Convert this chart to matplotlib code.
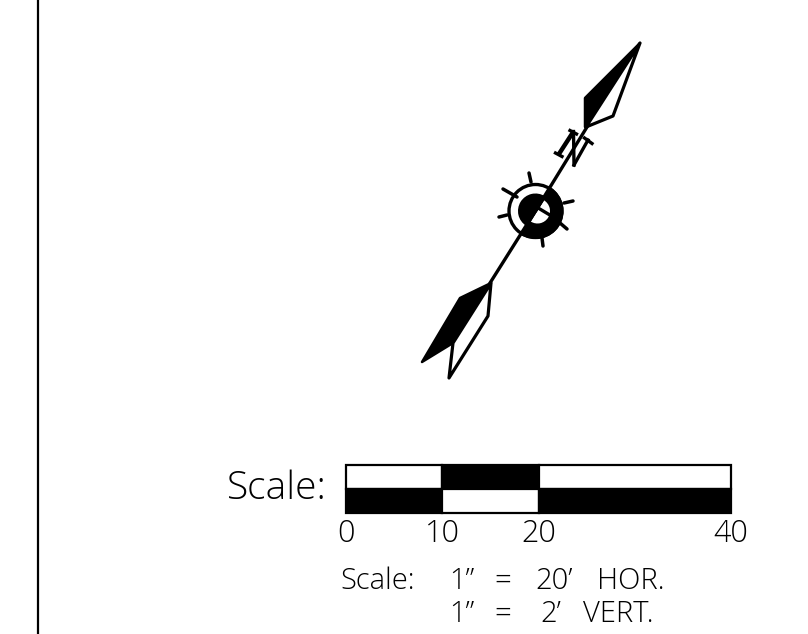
import matplotlib
matplotlib.use("Agg")
import matplotlib.pyplot as plt
from matplotlib.patches import Polygon, Circle, Wedge, Rectangle

FONT = "Open Sans"
scale_edges = [0, 10, 20, 40]
scale_ticks = ["0", "10", "20", "40"]
top_row = ["white", "black", "white"]
bottom_row = ["black", "white", "black"]
scale_title = "Scale:"
line1 = [("Scale:", 340), ("1”", 449), ("=", 494), ("20’", 535), ("HOR.", 597)]
line2 = [("1”", 449), ("=", 494), ("2’", 540), ("VERT.", 583)]

fig = plt.figure(figsize=(8.08, 6.34), dpi=100)
ax = fig.add_axes([0, 0, 1, 1])
ax.set_xlim(0, 808)
ax.set_ylim(634, 0)
ax.axis("off")

# frame line
ax.plot([38, 38], [0, 634], color="black", lw=1.6, solid_capstyle="butt")

# north arrow
ax.plot([587, 536], [127, 210], color="black", lw=2.4)
ax.plot([490, 536], [283, 210], color="black", lw=2.4)
ax.add_patch(Polygon([(640, 43), (585, 98), (585, 127)], fc="black", ec="black", lw=1.8, joinstyle="round"))
ax.add_patch(Polygon([(640, 43), (613, 116), (586, 127)], fc="white", ec="black", lw=2.3, joinstyle="round"))
ax.add_patch(Polygon([(491, 283), (460, 298), (422, 362), (453, 343)], fc="black", ec="black", lw=1.8, joinstyle="round"))
ax.add_patch(Polygon([(453, 343), (449, 378), (488, 316), (491, 283)], fc="white", ec="black", lw=2.3, joinstyle="round"))

# compass rose
cx, cy = 535.5, 211
ax.add_patch(Circle((cx, cy), 26.5, fc="white", ec="black", lw=2.4))
ax.add_patch(Wedge((cx, cy), 28, -58, 122, fc="black", ec="none"))
ax.add_patch(Wedge((cx, cy), 17.5, 122, 302, fc="black", ec="none"))
ax.add_patch(Wedge((cx + 2, cy), 12.5, -58, 122, fc="white", ec="none"))
ax.plot([cx + 1, cx + 16], [cy - 4, cy + 5], color="black", lw=2.4)
ax.plot([cx - 6, cx + 6], [cy + 9, cy - 10], color="black", lw=2.4)
for (x0, y0, x1, y1) in [(529, 173, 531, 182), (503, 189, 517, 197), (499, 217, 507, 215),
                         (543, 246, 542, 238), (567, 229, 560, 223), (573, 201, 564, 203)]:
    ax.plot([x0, x1], [y0, y1], color="black", lw=2.5, solid_capstyle="round")

# rotated N
ax.plot([558.3, 573.5], [155, 131.5], color="black", lw=3.2, solid_capstyle="butt")
ax.plot([555.5, 562], [153, 156.5], color="black", lw=2.4)
ax.plot([570, 576.5], [130.5, 134], color="black", lw=2.4)
ax.plot([573.5, 574], [131.5, 165], color="black", lw=2.4)
ax.plot([574, 588], [165, 140], color="black", lw=2.4)
ax.plot([584.5, 592], [138, 143.5], color="black", lw=2.4)

# scale bar, on its own axes in feet
W, H = 808, 634
bar = fig.add_axes([346 / W, 1 - 513 / H, (731 - 346) / W, 48 / H])
bar.set_xlim(0, 40)
bar.set_ylim(0, 2)
bar.axis("off")
for i in range(3):
    x0, x1 = scale_edges[i], scale_edges[i + 1]
    bar.add_patch(Rectangle((x0, 1), x1 - x0, 1, fc=top_row[i], ec="black", lw=1.6, clip_on=False))
    bar.add_patch(Rectangle((x0, 0), x1 - x0, 1, fc=bottom_row[i], ec="black", lw=1.6, clip_on=False))

txt = dict(family=FONT, weight="light", color="black")
ax.text(227, 499, scale_title, fontsize=28, va="baseline", ha="left", **txt)
for t, v in zip(scale_ticks, scale_edges):
    xp = 346 + v * (731 - 346) / 40
    ax.text(xp, 542, t, fontsize=22, va="baseline", ha="center", **txt)
for t, x in line1:
    ax.text(x, 589, t, fontsize=21, va="baseline", ha="left", **txt)
for t, x in line2:
    ax.text(x, 622, t, fontsize=21, va="baseline", ha="left", **txt)

fig.savefig("out.png", dpi=100)
